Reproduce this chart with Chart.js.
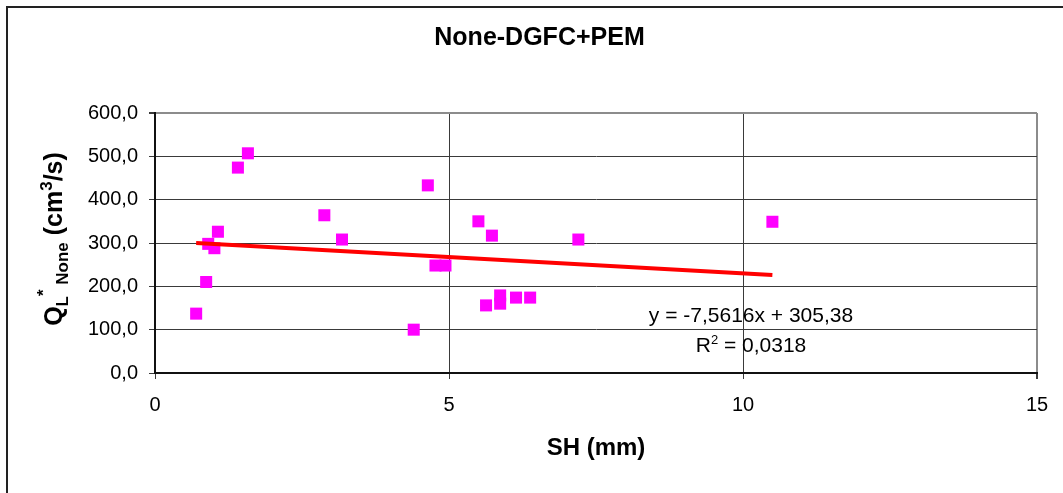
<!DOCTYPE html>
<html>
<head>
<meta charset="utf-8">
<script src="https://cdn.jsdelivr.net/npm/chart.js@4.4.1/dist/chart.umd.min.js"></script>
<style>
  html, body { margin: 0; padding: 0; background: #ffffff; }
  #wrap { width: 1063px; height: 493px; position: relative; }
</style>
</head>
<body>
<div id="wrap"><canvas id="c" width="1063" height="493"></canvas></div>
<script>
// ---- data ----
const chartTitle = 'None-DGFC+PEM';
const xAxisTitle = 'SH (mm)';
const shValues = [0.70, 0.87, 0.905, 1.01, 1.07, 1.41, 1.58, 2.88, 3.18, 4.40, 4.64, 4.77, 4.94, 5.50, 5.63, 5.73, 5.87, 5.87, 6.14, 6.38, 7.20, 10.50];
const qValues  = [137, 210, 298, 288, 326, 474, 507, 364, 308, 100, 433, 248, 248, 350, 156, 317, 179, 160, 174, 174, 308, 349];
const trendSlope = -7.5616;
const trendIntercept = 305.38;
const equationText = 'y = -7,5616x + 305,38';
const r2Value = '0,0318';
const xTicks = [0, 5, 10, 15];
const yTicks = [0, 100, 200, 300, 400, 500, 600];

const FONT = '"Liberation Sans", Arial, Helvetica, sans-serif';
const DARK = '#3a3a3a';
const GRAY = '#8c8c8c';

const points = shValues.map((x, i) => ({ x: x, y: qValues[i] }));
const xMin = Math.min(...shValues), xMax = Math.max(...shValues);
const trend = [xMin, xMax].map(x => ({ x: x, y: trendSlope * x + trendIntercept }));

const decorPlugin = {
  id: 'decor',
  beforeDraw(chart) {
    const ctx = chart.ctx;
    ctx.save();
    ctx.fillStyle = '#ffffff';
    ctx.fillRect(0, 0, chart.width, chart.height);
    ctx.strokeStyle = '#222222';
    ctx.lineWidth = 2;
    ctx.beginPath();
    ctx.moveTo(7, chart.height + 2);
    ctx.lineTo(7, 7);
    ctx.lineTo(chart.width + 2, 7);
    ctx.stroke();
    ctx.restore();
  },
  afterDraw(chart) {
    const ctx = chart.ctx;
    ctx.save();
    // y axis title with sub/superscripts
    const pieces = [
      { t: 'Q', size: 25, dy: 0 },
      { t: 'L', size: 17, dy: 6 },
      { t: '*', size: 17, dy: -13 },
      { t: ' None', size: 17, dy: 6 },
      { t: ' (cm', size: 25, dy: 0 },
      { t: '3', size: 17, dy: -10 },
      { t: '/s)', size: 25, dy: 0 }
    ];
    let total = 0;
    pieces.forEach(p => { ctx.font = 'bold ' + p.size + 'px ' + FONT; p.w = ctx.measureText(p.t).width; total += p.w; });
    const cy = (chart.chartArea.top + chart.chartArea.bottom) / 2 - 4;
    ctx.translate(53, cy);
    ctx.rotate(-Math.PI / 2);
    ctx.fillStyle = '#000000';
    ctx.textBaseline = 'alphabetic';
    ctx.textAlign = 'left';
    let x = -total / 2;
    pieces.forEach(p => {
      ctx.font = 'bold ' + p.size + 'px ' + FONT;
      ctx.fillText(p.t, x, 9 + p.dy);
      x += p.w;
    });
    ctx.restore();

    // trendline equation
    ctx.save();
    ctx.fillStyle = '#000000';
    ctx.textAlign = 'center';
    ctx.textBaseline = 'middle';
    ctx.font = '21px ' + FONT;
    ctx.fillText(equationText, 751, 316);
    // R^2 line
    ctx.font = '21px ' + FONT;
    const rw = ctx.measureText('R').width;
    ctx.font = '13px ' + FONT;
    const sw = ctx.measureText('2').width;
    ctx.font = '21px ' + FONT;
    const rest = ' = ' + r2Value;
    const restW = ctx.measureText(rest).width;
    const tot = rw + sw + restW;
    let sx = 751 - tot / 2;
    ctx.textAlign = 'left';
    ctx.fillText('R', sx, 346);
    ctx.font = '13px ' + FONT;
    ctx.fillText('2', sx + rw, 340);
    ctx.font = '21px ' + FONT;
    ctx.fillText(rest, sx + rw + sw, 346);
    ctx.restore();
  }
};

new Chart(document.getElementById('c'), {
  type: 'scatter',
  data: {
    datasets: [
      {
        type: 'line',
        label: 'trend',
        data: trend,
        borderColor: '#ff0000',
        borderWidth: 4,
        pointRadius: 0,
        fill: false,
        order: 0
      },
      {
        label: 'Q',
        data: points,
        backgroundColor: '#ff00ff',
        borderColor: '#ff00ff',
        borderWidth: 0,
        pointStyle: 'rect',
        pointRadius: 8.5,
        pointHoverRadius: 8.5,
        order: 1
      }
    ]
  },
  options: {
    responsive: false,
    animation: false,
    devicePixelRatio: 1,
    layout: { padding: { left: 42, right: 26, top: 0, bottom: 0 } },
    plugins: {
      legend: { display: false },
      tooltip: { enabled: false },
      title: {
        display: true,
        text: chartTitle,
        color: '#000000',
        font: { family: FONT, size: 25, weight: 'bold', lineHeight: 1.2 },
        padding: { top: 23, bottom: 60 }
      }
    },
    scales: {
      x: {
        type: 'linear',
        min: 0, max: 15,
        afterBuildTicks(scale) { scale.ticks = xTicks.map(v => ({ value: v })); },
        afterFit(scale) { scale.height = 120; },
        ticks: {
          color: '#000000',
          font: { family: FONT, size: 20 },
          padding: 14,
          maxRotation: 0,
          callback: v => String(v)
        },
        grid: {
          color: c => (c.tick && c.tick.value === 15) ? GRAY : DARK,
          lineWidth: c => (c.tick && c.tick.value === 15) ? 2 : 1,
          tickColor: DARK,
          tickLength: 6,
          drawTicks: true
        },
        border: { display: true, color: '#111111', width: 2 },
        title: {
          display: true,
          text: xAxisTitle,
          color: '#000000',
          font: { family: FONT, size: 24, weight: 'bold', lineHeight: 1.2 },
          padding: { top: 0, bottom: 30 }
        }
      },
      y: {
        type: 'linear',
        min: 0, max: 600,
        afterBuildTicks(scale) { scale.ticks = yTicks.map(v => ({ value: v })); },
        afterFit(scale) { scale.width = 113; },
        ticks: {
          color: '#000000',
          font: { family: FONT, size: 20 },
          padding: 11,
          callback: v => Number(v).toFixed(1).replace('.', ',')
        },
        grid: {
          color: c => (c.tick && c.tick.value === 600) ? GRAY : DARK,
          lineWidth: c => (c.tick && c.tick.value === 600) ? 2 : 1,
          tickColor: DARK,
          tickLength: 6,
          drawTicks: true
        },
        border: { display: true, color: '#111111', width: 2 }
      }
    }
  },
  plugins: [decorPlugin]
});
</script>
</body>
</html>
